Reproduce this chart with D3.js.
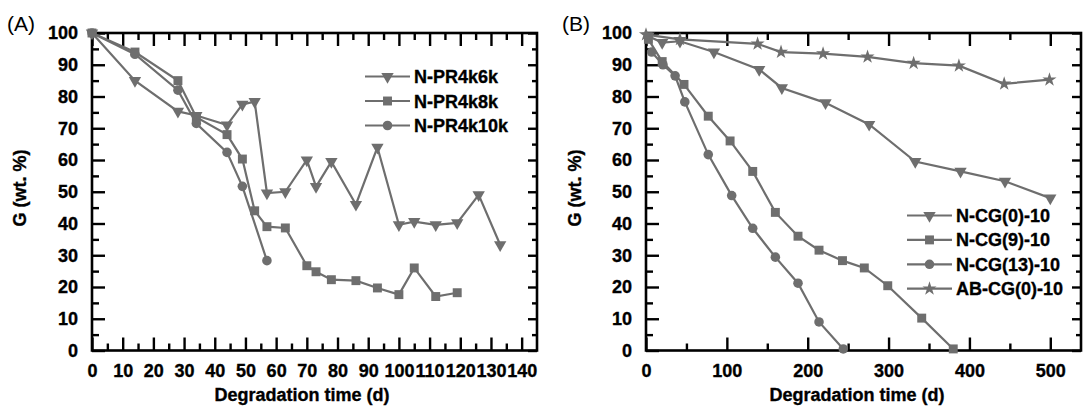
<!DOCTYPE html>
<html>
<head>
<meta charset="utf-8">
<script src="https://cdn.jsdelivr.net/npm/d3@7"></script>
<style>
  body { margin: 0; background: #fff; }
</style>
</head>
<body>
<svg id="chart" width="1083" height="406"></svg>
<script>
// ---- panel (A) data ----
var daysA6k  = [0, 14, 28, 34, 44, 49, 53, 57, 63, 70, 73, 78, 86, 93, 100, 105, 112, 119, 126, 133];
var gA6k     = [100, 85, 75.3, 74, 71, 77.5, 78.4, 49.6, 50, 60, 51.6, 59.5, 46, 64, 39.6, 40.6, 39.6, 40.2, 49, 33.3];
var daysA8k  = [0, 14, 28, 34, 44, 49, 53, 57, 63, 70, 73, 78, 86, 93, 100, 105, 112, 119];
var gA8k     = [100, 94, 85, 73.5, 68, 60.3, 44, 39, 38.6, 26.7, 24.8, 22.3, 22, 19.7, 17.6, 26, 17, 18.2];
var daysA10k = [0, 14, 28, 34, 44, 49, 57];
var gA10k    = [100, 93.3, 82, 71.5, 62.4, 51.7, 28.3];
var xTicksA  = [0, 10, 20, 30, 40, 50, 60, 70, 80, 90, 100, 110, 120, 130, 140];

// ---- panel (B) data ----
var daysB0   = [3, 20, 42, 84, 140, 168, 222, 276, 333, 389, 444, 500];
var gB0      = [99, 97, 97.4, 94, 88.5, 82.7, 78, 71.2, 59.5, 56.4, 53.3, 48];
var daysB9   = [3, 20, 47, 77, 104, 132, 160, 188, 214, 243, 270, 299, 341, 380];
var gB9      = [98, 91, 83.8, 73.8, 66, 56.4, 43.5, 36, 31.6, 28.3, 26, 20.4, 10.2, 0.5];
var daysB13  = [7, 21, 36, 48, 77, 106, 132, 160, 188, 214, 244];
var gB13     = [94, 90, 86.5, 78.3, 61.7, 48.8, 38.5, 29.4, 21.2, 9, 0.5];
var daysBab  = [0, 42, 138, 167, 219, 274, 331, 387, 443, 499];
var gBab     = [99.5, 98, 96.6, 94, 93.5, 92.5, 90.5, 89.7, 84, 85.3];
var xTicksB  = [0, 100, 200, 300, 400, 500];

var yTicks = [0, 10, 20, 30, 40, 50, 60, 70, 80, 90, 100];

var GRAY = "#6e6e6e";
var FONT = "'Liberation Sans', Arial, sans-serif";

var svg = d3.select("#chart");

function zip(a, b) {
  return a.map(function(d, i) { return [d, b[i]]; });
}

function markerPath(kind) {
  if (kind == "tri")    return d3.symbol().type(d3.symbolTriangle).size(66)();
  if (kind == "square") return d3.symbol().type(d3.symbolSquare).size(80)();
  if (kind == "circle") return d3.symbol().type(d3.symbolCircle).size(72)();
  return d3.symbol().type(d3.symbolStar).size(62)();
}

function markerTransform(kind, px, py) {
  // Origin style triangles point down
  if (kind == "tri") return "translate(" + px + "," + py + ") rotate(180)";
  return "translate(" + px + "," + py + ")";
}

// bold text in the scan looks heavy, a thin stroke thickens it a bit
function heavy(sel) {
  sel.attr("font-family", FONT)
     .attr("font-weight", "bold")
     .attr("stroke", "#000")
     .attr("stroke-width", 0.35);
  return sel;
}

function addTicks(g, axis, values, size, pad, labels, transform) {
  axis.tickValues(values).tickSizeInner(-size).tickSizeOuter(0).tickPadding(pad);
  if (!labels) axis.tickFormat("");
  var sel = g.append("g")
      .attr("transform", transform)
      .call(axis)
      .attr("font-size", 18);
  sel.select(".domain").remove();
  sel.selectAll("line").attr("stroke", "#000").attr("stroke-width", 2.4);
  heavy(sel.selectAll("text")).attr("fill", "#000");
}

function drawPanel(p) {
  var x = d3.scaleLinear().domain(p.xDomain).range([p.left, p.right]);
  var y = d3.scaleLinear().domain([0, 100]).range([p.bottom, p.top]);
  var g = svg.append("g");

  var xStep = p.xTicks[1] - p.xTicks[0];
  var xMinor = p.xTicks.map(function(d) { return d + xStep / 2; })
                .filter(function(d) { return d < p.xDomain[1]; });
  var yMinor = [5, 15, 25, 35, 45, 55, 65, 75, 85, 95];

  // bottom / left with labels, top / right mirrored
  addTicks(g, d3.axisBottom(x), p.xTicks, 13, 14, true, "translate(0," + p.bottom + ")");
  addTicks(g, d3.axisBottom(x), xMinor, 7, 14, false, "translate(0," + p.bottom + ")");
  addTicks(g, d3.axisTop(x), p.xTicks, 13, 0, false, "translate(0," + p.top + ")");
  addTicks(g, d3.axisTop(x), xMinor, 7, 0, false, "translate(0," + p.top + ")");
  addTicks(g, d3.axisLeft(y), yTicks, 13, 14, true, "translate(" + p.left + ",0)");
  addTicks(g, d3.axisLeft(y), yMinor, 7, 14, false, "translate(" + p.left + ",0)");
  addTicks(g, d3.axisRight(y), yTicks, 9, 0, false, "translate(" + p.right + ",0)");
  addTicks(g, d3.axisRight(y), yMinor, 5, 0, false, "translate(" + p.right + ",0)");

  g.append("rect")
      .attr("x", p.left)
      .attr("y", p.top)
      .attr("width", p.right - p.left)
      .attr("height", p.bottom - p.top)
      .attr("fill", "none")
      .attr("stroke", "#000")
      .attr("stroke-width", 2.6);

  var line = d3.line()
      .x(function(d) { return x(d[0]); })
      .y(function(d) { return y(d[1]); });

  p.series.forEach(function(s) {
    var pts = zip(s.days, s.values);
    g.append("path")
        .datum(pts)
        .attr("d", line)
        .attr("fill", "none")
        .attr("stroke", GRAY)
        .attr("stroke-width", 2.2);
    g.selectAll(null)
        .data(pts)
        .enter().append("path")
        .attr("d", markerPath(s.marker))
        .attr("transform", function(d) { return markerTransform(s.marker, x(d[0]), y(d[1])); })
        .attr("fill", GRAY);
  });

  // legend
  p.series.forEach(function(s, i) {
    var base = p.legend.y + i * p.legend.dy;
    var cy = base - 6.5;
    g.append("line")
        .attr("x1", p.legend.x)
        .attr("x2", p.legend.x + 45)
        .attr("y1", cy).attr("y2", cy)
        .attr("stroke", GRAY)
        .attr("stroke-width", 2.2);
    g.append("path")
        .attr("d", markerPath(s.marker))
        .attr("transform", markerTransform(s.marker, p.legend.x + 22.5, cy))
        .attr("fill", GRAY);
    heavy(g.append("text"))
        .attr("x", p.legend.x + 49)
        .attr("y", base)
        .attr("font-size", 18)
        .text(s.name);
  });

  // axis titles
  heavy(g.append("text"))
      .attr("x", p.xTitleX)
      .attr("y", 401)
      .attr("text-anchor", "middle")
      .attr("font-size", 18)
      .text("Degradation time (d)");

  heavy(g.append("text"))
      .attr("transform", "translate(" + p.yTitleX + ",188) rotate(-90)")
      .attr("text-anchor", "middle")
      .attr("font-size", 18)
      .text("G (wt. %)");

  g.append("text")
      .attr("x", p.labelX)
      .attr("y", 31)
      .attr("font-family", FONT)
      .attr("font-size", 21)
      .text(p.label);
}

drawPanel({
  label: "(A)", labelX: 7,
  left: 92, right: 537, top: 33, bottom: 350.5,
  xDomain: [0, 145], xTicks: xTicksA,
  xTitleX: 302, yTitleX: 26,
  legend: { x: 365, y: 83, dy: 24.5 },
  series: [
    { name: "N-PR4k6k",  days: daysA6k,  values: gA6k,  marker: "tri" },
    { name: "N-PR4k8k",  days: daysA8k,  values: gA8k,  marker: "square" },
    { name: "N-PR4k10k", days: daysA10k, values: gA10k, marker: "circle" }
  ]
});

drawPanel({
  label: "(B)", labelX: 562,
  left: 646, right: 1081, top: 33, bottom: 350.5,
  xDomain: [0, 538], xTicks: xTicksB,
  xTitleX: 857, yTitleX: 581,
  legend: { x: 907, y: 222, dy: 24.4 },
  series: [
    { name: "N-CG(0)-10",  days: daysB0,  values: gB0,  marker: "tri" },
    { name: "N-CG(9)-10",  days: daysB9,  values: gB9,  marker: "square" },
    { name: "N-CG(13)-10", days: daysB13, values: gB13, marker: "circle" },
    { name: "AB-CG(0)-10", days: daysBab, values: gBab, marker: "star" }
  ]
});
</script>
</body>
</html>
